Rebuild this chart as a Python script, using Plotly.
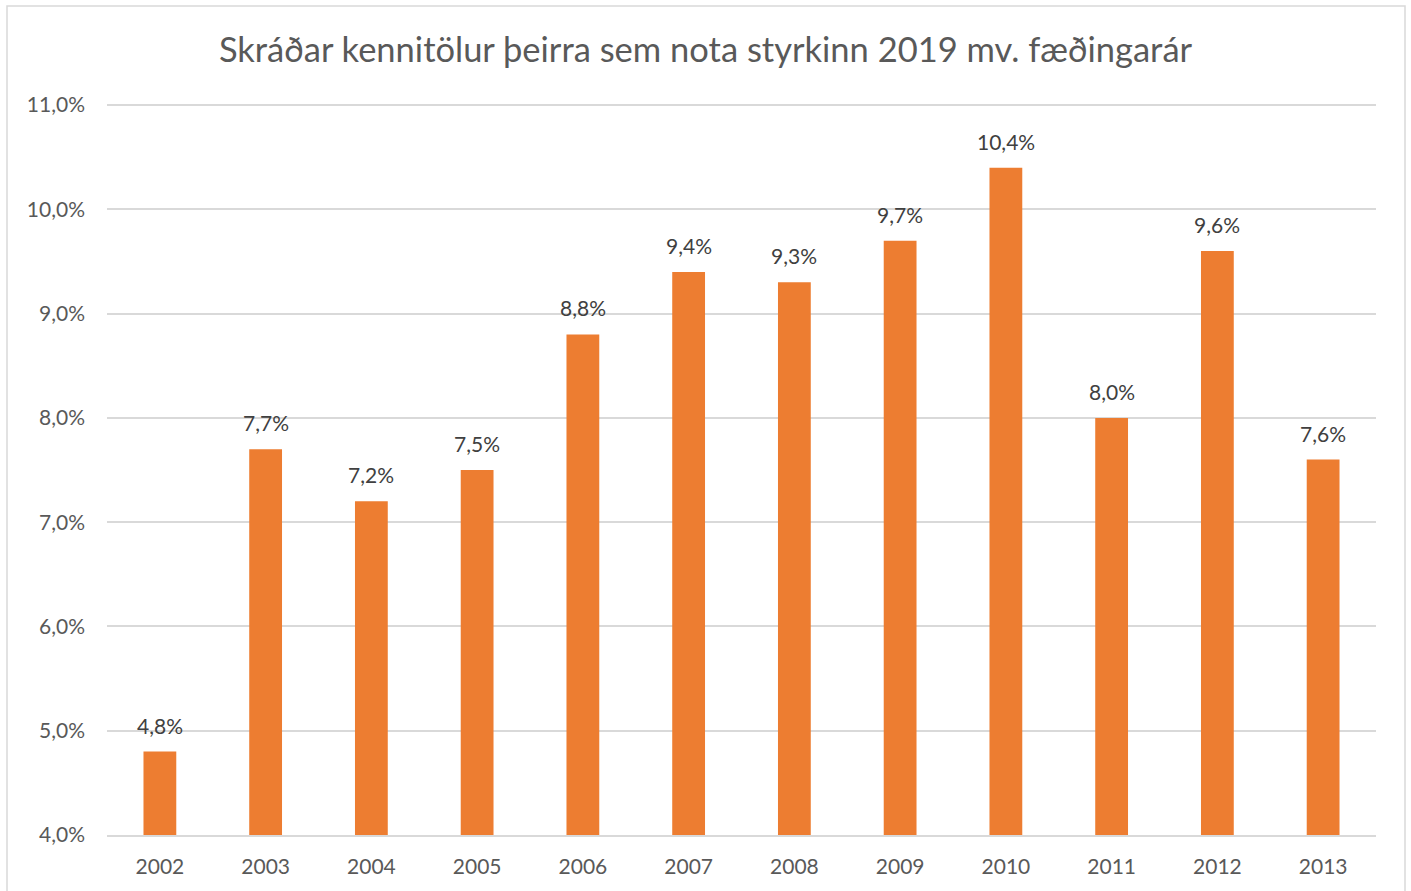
import plotly.graph_objects as go

years = ["2002", "2003", "2004", "2005", "2006", "2007", "2008", "2009", "2010", "2011", "2012", "2013"]
shares = [4.8, 7.7, 7.2, 7.5, 8.8, 9.4, 9.3, 9.7, 10.4, 8.0, 9.6, 7.6]
y_tick_values = [4, 5, 6, 7, 8, 9, 10, 11]
y_tick_labels = ["4,0%", "5,0%", "6,0%", "7,0%", "8,0%", "9,0%", "10,0%", "11,0%"]
title_text = "Skráðar kennitölur þeirra sem nota styrkinn 2019 mv. fæðingarár"

FONT = "Lato"

fig = go.Figure(
    go.Bar(
        x=years,
        y=shares,
        marker=dict(color="#ED7D31", line=dict(width=0)),
        hoverinfo="x+y",
    )
)

# data labels placed at each category's index position on the category axis
annotations = [
    dict(
        x=i,
        y=val,
        xref="x",
        yref="y",
        text=f"{val:.1f}%".replace(".", ","),
        showarrow=False,
        yanchor="bottom",
        yshift=12,
        font=dict(family=FONT, size=21, color="#404040"),
    )
    for i, val in enumerate(shares)
]

fig.update_layout(
    width=1411,
    height=891,
    separators=",.",
    plot_bgcolor="white",
    paper_bgcolor="white",
    margin=dict(l=107, r=35, t=103, b=56),
    bargap=0.69,
    showlegend=False,
    annotations=annotations,
    title=dict(
        text=title_text,
        x=0.5,
        xanchor="center",
        y=1 - 50 / 891,
        yanchor="middle",
        font=dict(family=FONT, size=34.5, color="#595959"),
    ),
    font=dict(family=FONT, color="#595959"),
    xaxis=dict(
        type="category",
        categoryorder="array",
        categoryarray=years,
        range=[-0.5, len(years) - 0.5],
        showgrid=False,
        showline=True,
        linecolor="#D9D9D9",
        linewidth=1.5,
        ticks="",
        tickfont=dict(family=FONT, size=21, color="#595959"),
        ticklabelstandoff=12,
    ),
    yaxis=dict(
        range=[4, 11.02],
        tickvals=y_tick_values,
        ticktext=y_tick_labels,
        showgrid=True,
        gridcolor="#D9D9D9",
        gridwidth=1.5,
        zeroline=False,
        showline=False,
        ticks="",
        tickfont=dict(family=FONT, size=21, color="#595959"),
        ticklabelstandoff=21,
    ),
    shapes=[
        dict(
            type="rect",
            xref="paper",
            yref="paper",
            x0=-100 / 1269,
            x1=1298 / 1269,
            y0=-70 / 732,
            y1=829 / 732,
            line=dict(color="#D9D9D9", width=1.5),
            fillcolor="rgba(0,0,0,0)",
            layer="below",
        )
    ],
)

fig.write_html(
    "out.html",
    config={"displayModeBar": False},
    post_script="document.body.style.margin='0';",
)
